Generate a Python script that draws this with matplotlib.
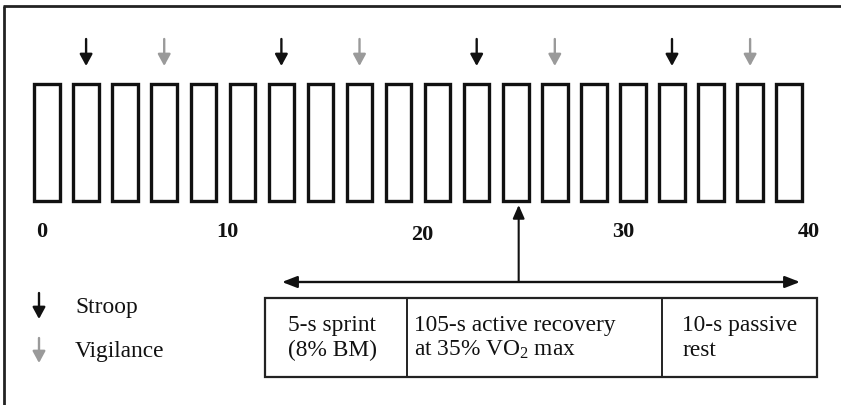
import matplotlib
matplotlib.use("Agg")
import matplotlib.pyplot as plt
from matplotlib.patches import Rectangle

plt.rcParams['font.family'] = ['Liberation Serif', 'DejaVu Serif']
plt.rcParams['mathtext.fontset'] = 'custom'
plt.rcParams['mathtext.rm'] = 'Liberation Serif'
plt.rcParams['mathtext.it'] = 'Liberation Serif:italic'

# timeline data (minutes): one 2-min sprint block every 2 min
block_start = [0, 2, 4, 6, 8, 10, 12, 14, 16, 18, 20, 22, 24, 26, 28, 30, 32, 34, 36, 38]
stroop_times = [3, 13, 23, 33]
vigilance_times = [7, 17, 27, 37]
tick_labels = ['0', '10', '20', '30', '40']
tick_pos = [0.75, 10.25, 20.2, 30.5, 40.0]
tick_row = [232, 232, 235, 232, 232]
zoom_block = 25.15

phase_labels = ['5-s sprint\n(8% BM)', '105-s active recovery\nat 35% VO$_{2}$ max', '10-s passive\nrest']
phase_edges = [12.17, 19.45, 32.5, 40.43]

BLACK = '#111111'
GREY = '#9a9a9a'
FS = 16.8

# pixel layout: x = 27.5 + 19.53 * minutes, y in pixels from top
px_per_min = 19.53
x_off = 27.5
W, H = 841, 405

fig = plt.figure(figsize=(W / 100, H / 100), dpi=100)
ax = fig.add_axes([0, 0, 1, 1])
ax.set_xlim(-x_off / px_per_min, (W - x_off) / px_per_min)
ax.set_ylim(H, 0)
ax.axis('off')

def px(n):
    return n / px_per_min

# frame (top and left only, picture is cropped)
ax.plot([0.005, 0.005], [0, 0.985], transform=ax.transAxes, color='#222222', lw=2, solid_capstyle='butt')
ax.plot([0.004, 1.0], [0.984, 0.984], transform=ax.transAxes, color='#222222', lw=2, solid_capstyle='butt')

# sprint blocks
bw = px(25.5)
for s in block_start:
    c = s + 1
    ax.add_patch(Rectangle((c - bw / 2, 83.5), bw, 117.5, fill=False,
                           ec=BLACK, lw=2.4, joinstyle='miter'))

# test arrows above the blocks
def down_arrow(x, y0, y1, col):
    ax.annotate('', xy=(x, y1), xytext=(x, y0),
                arrowprops=dict(arrowstyle='-|>,head_length=0.7,head_width=0.38',
                                color=col, lw=1.7, shrinkA=0, shrinkB=0))

for t in stroop_times:
    down_arrow(t, 39, 66, BLACK)
for t in vigilance_times:
    down_arrow(t, 39, 66, GREY)

# time labels
for lab, p, r in zip(tick_labels, tick_pos, tick_row):
    ax.text(p, r, lab, ha='center', va='center', fontsize=16, fontweight='bold', color=BLACK)

# zoom arrow from the block down to the detail
ax.annotate('', xy=(zoom_block, 205), xytext=(zoom_block, 281),
            arrowprops=dict(arrowstyle='-|>,head_length=0.8,head_width=0.35',
                            color=BLACK, lw=1.5, shrinkA=0, shrinkB=0))
ax.annotate('', xy=(px(800 - x_off), 282), xytext=(px(282 - x_off), 282),
            arrowprops=dict(arrowstyle='<|-|>,head_length=0.9,head_width=0.35',
                            color=BLACK, lw=1.7, shrinkA=0, shrinkB=0))

# phase table
y_top, y_bot = 298, 377
ax.add_patch(Rectangle((phase_edges[0], y_top), phase_edges[-1] - phase_edges[0],
                       y_bot - y_top, fill=False, ec='#222222', lw=1.6))
for e in phase_edges[1:-1]:
    ax.plot([e, e], [y_top, y_bot], color='#222222', lw=1.4)
text_x = [phase_edges[0] + px(23), phase_edges[1] + px(7), phase_edges[2] + px(20)]
for lab, tx in zip(phase_labels, text_x):
    ax.text(tx, 338, lab, ha='left', va='center', fontsize=FS, color=BLACK, linespacing=1.2)

# legend
lx = px(39 - x_off)
down_arrow(lx, 293, 319, BLACK)
down_arrow(lx, 338, 363, GREY)
ax.text(px(75 - x_off), 307, 'Stroop', ha='left', va='center', fontsize=FS, color=BLACK)
ax.text(px(75 - x_off), 352, 'Vigilance', ha='left', va='center', fontsize=FS, color=BLACK)

fig.savefig('out.png', dpi=100, facecolor='white')
